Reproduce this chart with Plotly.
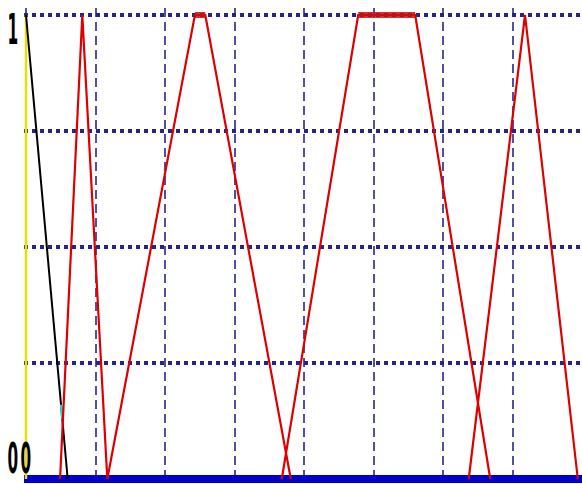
import plotly.graph_objects as go

# Membership functions over the universe 0..8 (break points of each shape)
mf_black_x = [0.0, 0.60]
mf_black_y = [1.0, 0.0]

mf_yellow_x = [0.0, 0.0]
mf_yellow_y = [0.0, 1.0]

mf_cyan_x = [0.505, 0.522]
mf_cyan_y = [0.16, 0.13]

mf_red = [
    ([0.49, 0.81, 1.17], [0.0, 1.0, 0.0]),
    ([1.17, 2.43, 2.58, 3.81], [0.0, 1.0, 1.0, 0.0]),
    ([3.68, 4.78, 5.60, 6.68], [0.0, 1.0, 1.0, 0.0]),
    ([6.37, 7.18, 7.94], [0.0, 1.0, 0.0]),
]

W, H = 582, 484
M_L, M_R, M_T, M_B = 24, 0, 8, 0
PX_PER_UNIT_X = 69.5
PX_PER_UNIT_Y = 464

fig = go.Figure()

fig.add_trace(go.Scatter(x=mf_yellow_x, y=mf_yellow_y, mode="lines",
                         line=dict(color="#e8e000", width=2.5), hoverinfo="skip"))
fig.add_trace(go.Scatter(x=mf_black_x, y=mf_black_y, mode="lines",
                         line=dict(color="#000000", width=2), hoverinfo="skip"))
fig.add_trace(go.Scatter(x=mf_cyan_x, y=mf_cyan_y, mode="lines",
                         line=dict(color="#30d0d0", width=2.5), hoverinfo="skip"))

for xs, ys in mf_red:
    fig.add_trace(go.Scatter(x=xs, y=ys, mode="lines",
                             line=dict(color="#dd0000", width=2.2), hoverinfo="skip"))
    # plateau of trapezoids is drawn heavier
    if len(xs) == 4:
        fig.add_trace(go.Scatter(x=xs[1:3], y=ys[1:3], mode="lines",
                                 line=dict(color="#c81010", width=6),
                                 opacity=0.85, hoverinfo="skip"))

fig.update_xaxes(range=[-2 / PX_PER_UNIT_X, 8], dtick=1, tick0=0,
                 showticklabels=False, showgrid=True, gridcolor="#5050a4",
                 gridwidth=2, griddash="9px,5px", zeroline=False,
                 showline=False, ticks="")
fig.update_yaxes(range=[-5 / PX_PER_UNIT_Y, 1 + 7 / PX_PER_UNIT_Y], dtick=0.25,
                 tick0=0, showticklabels=False, showgrid=True,
                 gridcolor="#24248c", gridwidth=4, griddash="4px,4px",
                 zeroline=True, zerolinecolor="#0000cc", zerolinewidth=8,
                 showline=False, ticks="")

plot_w = W - M_L - M_R
plot_h = H - M_T - M_B


def paper_x(px):
    return (px - M_L) / plot_w


def paper_y(py):
    return (H - M_B - py) / plot_h


label_font = dict(family="Liberation Sans Narrow, DejaVu Sans Condensed, Arial",
                  size=17, color="#000000")
fig.add_annotation(text="1", xref="paper", yref="paper",
                   x=paper_x(13), y=paper_y(29), showarrow=False,
                   xanchor="center", yanchor="middle", font=label_font)
fig.add_annotation(text="0", xref="paper", yref="paper",
                   x=paper_x(13), y=paper_y(458), showarrow=False,
                   xanchor="center", yanchor="middle", font=label_font)
fig.add_annotation(text="0", xref="paper", yref="paper",
                   x=paper_x(26), y=paper_y(458), showarrow=False,
                   xanchor="center", yanchor="middle", font=label_font)

fig.update_layout(width=W, height=H, showlegend=False,
                  margin=dict(l=M_L, r=M_R, t=M_T, b=M_B, pad=0),
                  paper_bgcolor="white", plot_bgcolor="white")

# stretch the narrow axis digits vertically
stretch_js = """
var gd = document.getElementById('{plot_id}');
gd.querySelectorAll('.annotation-text').forEach(function (t) {
  t.style.transformBox = 'fill-box';
  t.style.transformOrigin = 'center';
  t.style.transform = 'scaleY(2.5)';
  t.style.fontWeight = 'bold';
});
"""

fig.write_html("out.html", post_script=stretch_js)
